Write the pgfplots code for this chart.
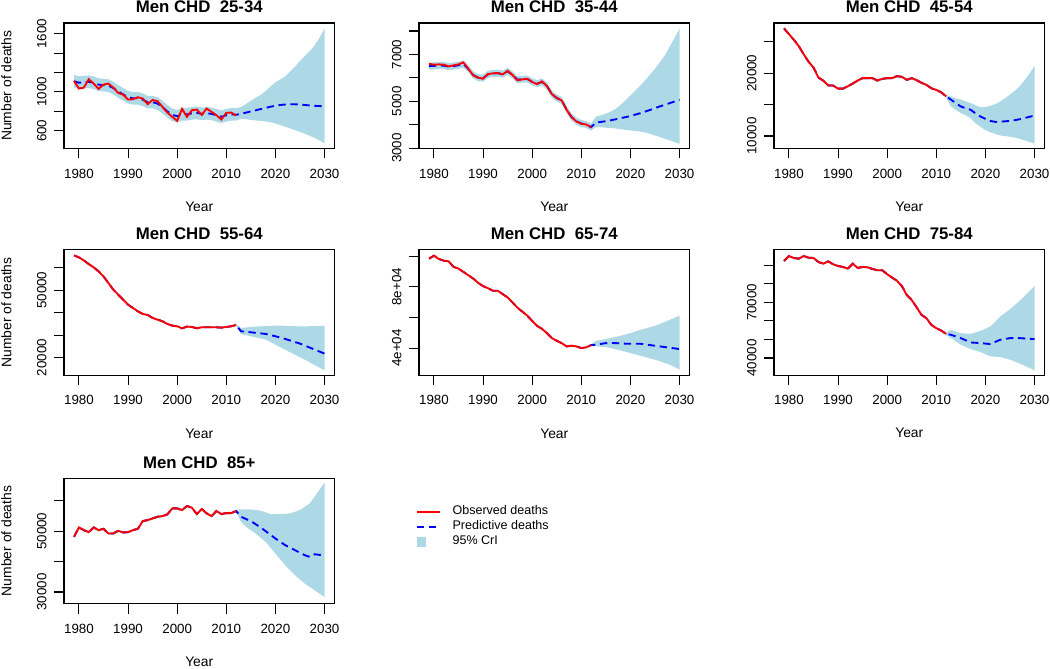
\documentclass[border=0pt]{standalone}
\usepackage{fontspec}
\setmainfont{Liberation Sans}
\usepackage{pgfplots}
\pgfplotsset{compat=1.18}
\usepackage{pgfplotstable}
\usepgfplotslibrary{fillbetween}
\definecolor{bandblue}{HTML}{ADD8E6}
\definecolor{rred}{HTML}{FF0000}
\definecolor{rblue}{HTML}{0000FF}

% ---------- 25-34 ----------
\pgfplotstableread{
year obs
1979 1114
1980 1035
1981 1045
1982 1131
1983 1086
1984 1031
1985 1076
1986 1086
1987 1045
1988 990
1989 973
1990 922
1991 925
1992 946
1993 932
1994 874
1995 918
1996 905
1997 847
1998 788
1999 744
2000 703
2001 826
2002 744
2003 812
2004 819
2005 764
2006 829
2007 795
2008 761
2009 716
2010 785
2011 788
2012 758
}\obsA
\pgfplotstableread{
year fit lo hi
1979 1110 1045 1175
1980 1095 1030 1160
1981 1100 1035 1165
1982 1105 1040 1170
1983 1095 1030 1160
1984 1075 1010 1140
1985 1070 1005 1135
1986 1065 1000 1130
1987 1040 975 1105
1988 1005 940 1070
1989 975 910 1040
1990 945 880 1010
1991 935 870 1000
1992 935 870 1000
1993 920 855 985
1994 895 830 960
1995 895 830 960
1996 880 815 945
1997 845 780 910
1998 800 735 865
1999 765 700 830
2000 750 685 815
2001 770 705 835
2002 770 705 835
2003 780 715 845
2004 785 720 850
2005 775 710 840
2006 780 715 845
2007 775 710 840
2008 760 695 825
2009 745 680 810
2010 760 695 825
2011 770 705 835
2012 765 705 835
2013 775 725 845
2014 787 720 875
2015 800 712 910
2016 812 707 940
2017 824 703 970
2018 836 697 1010
2019 848 688 1055
2020 858 675 1100
2021 866 660 1130
2022 871 642 1160
2023 874 625 1210
2024 873 607 1260
2025 870 590 1320
2026 866 570 1370
2027 861 548 1420
2028 857 528 1480
2029 855 500 1560
2030 853 470 1650
}\predA

% ---------- 35-44 ----------
\pgfplotstableread{
year obs
1979 6604
1980 6561
1981 6575
1982 6561
1983 6490
1984 6533
1985 6575
1986 6661
1987 6390
1988 6105
1989 6006
1990 5963
1991 6162
1992 6191
1993 6205
1994 6148
1995 6305
1996 6120
1997 5892
1998 5934
1999 5963
2000 5821
2001 5735
2002 5849
2003 5650
2004 5308
2005 5137
2006 5037
2007 4638
2008 4325
2009 4140
2010 4040
2011 4011
2012 3883
}\obsB
\pgfplotstableread{
year fit lo hi
1979 6500 6350 6650
1980 6510 6360 6660
1981 6530 6380 6680
1982 6520 6370 6670
1983 6480 6330 6630
1984 6500 6350 6650
1985 6540 6390 6690
1986 6590 6440 6740
1987 6380 6230 6530
1988 6120 5970 6270
1989 6010 5860 6160
1990 5990 5840 6140
1991 6150 6000 6300
1992 6190 6040 6340
1993 6200 6050 6350
1994 6160 6010 6310
1995 6280 6130 6430
1996 6130 5980 6280
1997 5920 5770 6070
1998 5950 5800 6100
1999 5950 5800 6100
2000 5830 5680 5980
2001 5750 5600 5900
2002 5830 5680 5980
2003 5650 5500 5800
2004 5310 5160 5460
2005 5140 4990 5290
2006 5040 4890 5190
2007 4650 4500 4800
2008 4330 4180 4480
2009 4150 4000 4300
2010 4050 3900 4200
2011 4010 3860 4160
2012 3900 3750 4050
2013 4090 3900 4350
2014 4120 3890 4400
2015 4150 3870 4470
2016 4190 3860 4560
2017 4230 3840 4680
2018 4280 3810 4850
2019 4320 3780 5040
2020 4370 3755 5250
2021 4430 3730 5460
2022 4490 3710 5670
2023 4560 3670 5890
2024 4630 3610 6140
2025 4710 3540 6390
2026 4780 3470 6670
2027 4850 3400 6960
2028 4920 3330 7330
2029 4990 3260 7710
2030 5066 3185 8100
}\predB

% ---------- 45-54 ----------
\pgfplotstableread{
year obs
1979 27110
1980 26200
1981 25300
1982 24300
1983 23000
1984 21800
1985 20900
1986 19300
1987 18800
1988 18050
1989 18020
1990 17540
1991 17540
1992 17910
1993 18350
1994 18820
1995 19200
1996 19200
1997 19200
1998 18820
1999 19090
2000 19200
2001 19200
2002 19520
2003 19410
2004 18930
2005 19200
2006 18880
2007 18450
2008 18130
2009 17590
2010 17330
2011 16950
2012 16310
}\obsC
\pgfplotstableread{
year fit lo hi
1979 27110 26910 27310
1980 26200 26000 26400
1981 25300 25100 25500
1982 24300 24100 24500
1983 23000 22800 23200
1984 21800 21600 22000
1985 20900 20700 21100
1986 19300 19100 19500
1987 18800 18600 19000
1988 18050 17850 18250
1989 18020 17820 18220
1990 17540 17340 17740
1991 17540 17340 17740
1992 17910 17710 18110
1993 18350 18150 18550
1994 18820 18620 19020
1995 19200 19000 19400
1996 19200 19000 19400
1997 19200 19000 19400
1998 18820 18620 19020
1999 19090 18890 19290
2000 19200 19000 19400
2001 19200 19000 19400
2002 19520 19320 19720
2003 19410 19210 19610
2004 18930 18730 19130
2005 19200 19000 19400
2006 18880 18680 19080
2007 18450 18250 18650
2008 18130 17930 18330
2009 17590 17390 17790
2010 17330 17130 17530
2011 16950 16750 17150
2012 16310 16110 16510
2013 15775 14700 16300
2014 15200 14150 15950
2015 14700 13640 15780
2016 14400 13300 15500
2017 14170 12850 15240
2018 13600 12030 14900
2019 13100 11450 14600
2020 12730 10960 14600
2021 12400 10600 14800
2022 12250 10320 15080
2023 12280 10100 15500
2024 12340 9980 16000
2025 12400 9890 16580
2026 12530 9750 17200
2027 12670 9550 17910
2028 12870 9300 18900
2029 13060 9050 19950
2030 13262 8820 21120
}\predC

% ---------- 55-64 ----------
\pgfplotstableread{
year obs
1979 65481
1980 64593
1981 63259
1982 61630
1983 60148
1984 58370
1985 56148
1986 53185
1987 50222
1988 48000
1989 45778
1990 43556
1991 42074
1992 40593
1993 39407
1994 38963
1995 37630
1996 36889
1997 36148
1998 34963
1999 34222
2000 33926
2001 33037
2002 33778
2003 33630
2004 33037
2005 33481
2006 33481
2007 33481
2008 33481
2009 33333
2010 33630
2011 33926
2012 34518
}\obsD
\pgfplotstableread{
year fit lo hi
1979 65481 65081 65881
1980 64593 64193 64993
1981 63259 62859 63659
1982 61630 61230 62030
1983 60148 59748 60548
1984 58370 57970 58770
1985 56148 55748 56548
1986 53185 52785 53585
1987 50222 49822 50622
1988 48000 47600 48400
1989 45778 45378 46178
1990 43556 43156 43956
1991 42074 41674 42474
1992 40593 40193 40993
1993 39407 39007 39807
1994 38963 38563 39363
1995 37630 37230 38030
1996 36889 36489 37289
1997 36148 35748 36548
1998 34963 34563 35363
1999 34222 33822 34622
2000 33926 33526 34326
2001 33037 32637 33437
2002 33778 33378 34178
2003 33630 33230 34030
2004 33037 32637 33437
2005 33481 33081 33881
2006 33481 33081 33881
2007 33481 33081 33881
2008 33481 33081 33881
2009 33333 32933 33733
2010 33630 33230 34030
2011 33926 33526 34326
2012 34518 34118 34918
2013 31700 30500 33200
2014 31500 30000 33400
2015 31260 29480 33630
2016 31000 29000 33800
2017 30770 28500 33900
2018 30520 28000 34000
2019 30000 26900 34100
2020 29480 25780 34200
2021 28900 24600 34200
2022 28300 23500 34100
2023 27600 22370 34000
2024 26900 21300 33950
2025 26220 20200 33930
2026 25300 19100 33900
2027 24450 17900 33950
2028 23560 16600 34000
2029 22650 15500 34100
2030 21780 14370 34220
}\predD

% ---------- 65-74 ----------
\pgfplotstableread{
year obs
1979 98277
1980 100219
1981 98061
1982 96982
1983 96551
1984 92882
1985 91802
1986 89643
1987 87486
1988 85327
1989 82521
1990 80363
1991 79068
1992 77341
1993 77341
1994 75183
1995 73024
1996 69786
1997 66333
1998 63742
1999 61152
2000 57699
2001 54461
2002 52519
2003 49713
2004 46475
2005 44749
2006 43238
2007 41079
2008 41511
2009 41079
2010 40000
2011 40432
2012 41943
}\obsE
\pgfplotstableread{
year fit lo hi
1979 98277 97777 98777
1980 100219 99719 100719
1981 98061 97561 98561
1982 96982 96482 97482
1983 96551 96051 97051
1984 92882 92382 93382
1985 91802 91302 92302
1986 89643 89143 90143
1987 87486 86986 87986
1988 85327 84827 85827
1989 82521 82021 83021
1990 80363 79863 80863
1991 79068 78568 79568
1992 77341 76841 77841
1993 77341 76841 77841
1994 75183 74683 75683
1995 73024 72524 73524
1996 69786 69286 70286
1997 66333 65833 66833
1998 63742 63242 64242
1999 61152 60652 61652
2000 57699 57199 58199
2001 54461 53961 54961
2002 52519 52019 53019
2003 49713 49213 50213
2004 46475 45975 46975
2005 44749 44249 45249
2006 43238 42738 43738
2007 41079 40579 41579
2008 41511 41011 42011
2009 41079 40579 41579
2010 40000 39500 40500
2011 40432 39932 40932
2012 41943 41443 42443
2013 42160 41080 44750
2014 42700 40860 45300
2015 43240 40650 45830
2016 43300 40000 46550
2017 43240 39200 47270
2018 43000 38490 47990
2019 42850 37600 48850
2020 42800 36760 49710
2021 42800 35900 50800
2022 42800 35040 51870
2023 42400 34180 52730
2024 41950 33300 53600
2025 41510 32450 54460
2026 41100 31370 55750
2027 40650 30290 57050
2028 40220 29210 58350
2029 39800 27600 59750
2030 39350 25970 61150
}\predE

% ---------- 75-84 ----------
\pgfplotstableread{
year obs
1979 92321
1980 95000
1981 93929
1982 93571
1983 95000
1984 94107
1985 93929
1986 91786
1987 90893
1988 92143
1989 90536
1990 89643
1991 89107
1992 88214
1993 90893
1994 88571
1995 89107
1996 88929
1997 88036
1998 87321
1999 87321
2000 85179
2001 83393
2002 81607
2003 78750
2004 73929
2005 71250
2006 67321
2007 63214
2008 61429
2009 57857
2010 56071
2011 54821
2012 53036
}\obsF
\pgfplotstableread{
year fit lo hi
1979 92321 91721 92921
1980 95000 94400 95600
1981 93929 93329 94529
1982 93571 92971 94171
1983 95000 94400 95600
1984 94107 93507 94707
1985 93929 93329 94529
1986 91786 91186 92386
1987 90893 90293 91493
1988 92143 91543 92743
1989 90536 89936 91136
1990 89643 89043 90243
1991 89107 88507 89707
1992 88214 87614 88814
1993 90893 90293 91493
1994 88571 87971 89171
1995 89107 88507 89707
1996 88929 88329 89529
1997 88036 87436 88636
1998 87321 86721 87921
1999 87321 86721 87921
2000 85179 84579 85779
2001 83393 82793 83993
2002 81607 81007 82207
2003 78750 78150 79350
2004 73929 73329 74529
2005 71250 70650 71850
2006 67321 66721 67921
2007 63214 62614 63814
2008 61429 60829 62029
2009 57857 57257 58457
2010 56071 55471 56671
2011 54821 54221 55421
2012 53036 52436 53636
2013 52500 50710 55180
2014 51600 48900 54300
2015 50710 47140 53390
2016 49550 45980 53200
2017 48390 44820 53040
2018 48200 44000 53800
2019 48040 43210 54640
2020 47770 42050 55800
2021 47500 40890 56960
2022 48660 40700 59640
2023 49820 40540 62320
2024 50270 39800 64290
2025 50710 39110 66250
2026 50710 38000 68570
2027 50710 36960 70890
2028 50530 35800 73500
2029 50350 34600 76100
2030 50180 33390 78750
}\predF

% ---------- 85+ ----------
\pgfplotstableread{
year obs
1979 48132
1980 51209
1981 50330
1982 49670
1983 51209
1984 50330
1985 50769
1986 49231
1987 49231
1988 50110
1989 49560
1990 49670
1991 50330
1992 50769
1993 53297
1994 53626
1995 54176
1996 54725
1997 54945
1998 55495
1999 57473
2000 57473
2001 56923
2002 58242
2003 57692
2004 55604
2005 57253
2006 55824
2007 54945
2008 56593
2009 55604
2010 55934
2011 55934
2012 56593
}\obsG
\pgfplotstableread{
year fit lo hi
1979 48132 47732 48532
1980 51209 50809 51609
1981 50330 49930 50730
1982 49670 49270 50070
1983 51209 50809 51609
1984 50330 49930 50730
1985 50769 50369 51169
1986 49231 48831 49631
1987 49231 48831 49631
1988 50110 49710 50510
1989 49560 49160 49960
1990 49670 49270 50070
1991 50330 49930 50730
1992 50769 50369 51169
1993 53297 52897 53697
1994 53626 53226 54026
1995 54176 53776 54576
1996 54725 54325 55125
1997 54945 54545 55345
1998 55495 55095 55895
1999 57473 57073 57873
2000 57473 57073 57873
2001 56923 56523 57323
2002 58242 57842 58642
2003 57692 57292 58092
2004 55604 55204 56004
2005 57253 56853 57653
2006 55824 55424 56224
2007 54945 54545 55345
2008 56593 56193 56993
2009 55604 55204 56004
2010 55934 55534 56334
2011 55934 55534 56334
2012 56593 56193 56993
2013 54725 53080 57140
2014 54000 51430 57140
2015 53300 50330 57140
2016 52250 49230 56950
2017 51210 47860 56700
2018 50000 46480 56150
2019 48800 44560 55600
2020 47580 42640 55600
2021 46480 40710 55600
2022 45390 38790 55700
2023 44560 37140 55820
2024 43740 35500 56370
2025 42910 34120 56920
2026 42090 32750 58020
2027 41540 31650 59120
2028 42420 30550 61320
2029 42200 29450 63630
2030 41980 28350 65930
}\predG

\pgfplotsset{
  rpanel/.style={
    scale only axis, width=202.9pt, height=94.1pt, anchor=north west,
    xmin=1976.96, xmax=2032.04,
    xtick={1980,1990,2000,2010,2020,2030},
    xticklabels={1980,1990,2000,2010,2020,2030},
    scaled x ticks=false, scaled y ticks=false,
    tick pos=left, tick align=outside, major tick length=7.5pt,
    every tick/.style={black, line width=0.8pt},
    axis line style={black, line width=0.8pt},
    ticklabel style={font=\fontsize{10}{12}\selectfont},
    xticklabel style={anchor=north, inner sep=0pt},
    yticklabel style={rotate=90, anchor=south, inner sep=0pt},
    xticklabel shift=7.5pt,
    yticklabel shift=5.5pt,
    /pgf/number format/assume math mode=true,
    xlabel={Year},
    xlabel style={at={(axis description cs:0.5,-0.463)}, anchor=center, inner sep=0pt, font=\fontsize{10.4}{12}\selectfont},
    title style={at={(axis description cs:0.5,1)}, anchor=center, inner sep=0pt, yshift=5.9pt, font=\bfseries\fontsize{12.6}{15}\selectfont},
  },
  ylab/.style={ylabel={Number of deaths},
    ylabel style={at={(axis description cs:-0.2124,0.5)}, anchor=center, inner sep=0pt, font=\fontsize{10.4}{12}\selectfont}},
  obsline/.style={rred, line width=1.4pt},
  predline/.style={rblue, line width=1.4pt, dash pattern=on 5.5pt off 3.5pt},
}

\begin{document}
\begin{tikzpicture}

% Panel 1
\begin{axis}[rpanel, ylab, at={(48pt,-17.25pt)}, title={Men CHD\ \ 25-34},
  ymin=418.5, ymax=1709.6, ytick={600,800,1000,1200,1400,1600}, yticklabels={600,,1000,,,1600}]
\addplot[name path=uA, draw=none, forget plot] table[x=year,y=hi]{\predA};
\addplot[name path=lA, draw=none, forget plot] table[x=year,y=lo]{\predA};
\addplot[fill=bandblue, draw=none, forget plot] fill between[of=uA and lA];
\addplot[predline, forget plot] table[x=year,y=fit]{\predA};
\addplot[obsline, forget plot] table[x=year,y=obs]{\obsA};
\end{axis}

% Panel 2
\begin{axis}[rpanel, at={(314.25pt,-17.25pt)}, title={Men CHD\ \ 35-44},
  ymin=2985, ymax=8342, ytick={3000,4000,5000,6000,7000,8000}, yticklabels={3000,,5000,,7000,}]
\addplot[name path=uB, draw=none, forget plot] table[x=year,y=hi]{\predB};
\addplot[name path=lB, draw=none, forget plot] table[x=year,y=lo]{\predB};
\addplot[fill=bandblue, draw=none, forget plot] fill between[of=uB and lB];
\addplot[predline, forget plot] table[x=year,y=fit]{\predB};
\addplot[obsline, forget plot] table[x=year,y=obs]{\obsB};
\end{axis}

% Panel 3
\begin{axis}[rpanel, at={(580.5pt,-17.25pt)}, title={Men CHD\ \ 45-54},
  ymin=8021, ymax=27968, ytick={10000,15000,20000,25000}, yticklabels={10000,,20000,}]
\addplot[name path=uC, draw=none, forget plot] table[x=year,y=hi]{\predC};
\addplot[name path=lC, draw=none, forget plot] table[x=year,y=lo]{\predC};
\addplot[fill=bandblue, draw=none, forget plot] fill between[of=uC and lC];
\addplot[predline, forget plot] table[x=year,y=fit]{\predC};
\addplot[obsline, forget plot] table[x=year,y=obs]{\obsC};
\end{axis}

% Panel 4
\begin{axis}[rpanel, ylab, at={(48pt,-187.3pt)}, title={Men CHD\ \ 55-64},
  ymin=12148, ymax=68000, ytick={20000,30000,40000,50000,60000}, yticklabels={20000,,,50000,}]
\addplot[name path=uD, draw=none, forget plot] table[x=year,y=hi]{\predD};
\addplot[name path=lD, draw=none, forget plot] table[x=year,y=lo]{\predD};
\addplot[fill=bandblue, draw=none, forget plot] fill between[of=uD and lD];
\addplot[predline, forget plot] table[x=year,y=fit]{\predD};
\addplot[obsline, forget plot] table[x=year,y=obs]{\obsD};
\end{axis}

% Panel 5
\begin{axis}[rpanel, at={(314.25pt,-187.3pt)}, title={Men CHD\ \ 65-74},
  ymin=22301, ymax=104106, ytick={40000,60000,80000,100000}, yticklabels={4e+04,,8e+04,}]
\addplot[name path=uE, draw=none, forget plot] table[x=year,y=hi]{\predE};
\addplot[name path=lE, draw=none, forget plot] table[x=year,y=lo]{\predE};
\addplot[fill=bandblue, draw=none, forget plot] fill between[of=uE and lE];
\addplot[predline, forget plot] table[x=year,y=fit]{\predE};
\addplot[obsline, forget plot] table[x=year,y=obs]{\obsE};
\end{axis}

% Panel 6
\begin{axis}[rpanel, at={(580.5pt,-187.3pt)}, title={Men CHD\ \ 75-84},
  ymin=30714, ymax=98393, ytick={40000,50000,60000,70000,80000,90000}, yticklabels={40000,,,70000,,}]
\addplot[name path=uF, draw=none, forget plot] table[x=year,y=hi]{\predF};
\addplot[name path=lF, draw=none, forget plot] table[x=year,y=lo]{\predF};
\addplot[fill=bandblue, draw=none, forget plot] fill between[of=uF and lF];
\addplot[predline, forget plot] table[x=year,y=fit]{\predF};
\addplot[obsline, forget plot] table[x=year,y=obs]{\obsF};
\end{axis}

% Panel 7
\begin{axis}[rpanel, ylab, at={(48pt,-358.7pt)}, title={Men CHD\ \ 85+},
  ymin=26154, ymax=67363, ytick={30000,40000,50000,60000}, yticklabels={30000,,50000,},
  legend cell align=left,
  legend style={at={(axis description cs:1.301,0.791)}, anchor=north west, draw=none, fill=none,
    inner sep=0pt, outer sep=0pt, row sep=0pt, font=\fontsize{9.4}{11}\selectfont,
    nodes={inner sep=0pt, text height=7.5pt, text depth=3.75pt},
    /tikz/every odd column/.append style={column sep=9pt}}]
\addplot[name path=uG, draw=none, forget plot] table[x=year,y=hi]{\predG};
\addplot[name path=lG, draw=none, forget plot] table[x=year,y=lo]{\predG};
\addplot[fill=bandblue, draw=none, forget plot] fill between[of=uG and lG];
\addplot[predline, forget plot] table[x=year,y=fit]{\predG};
\addplot[obsline, forget plot] table[x=year,y=obs]{\obsG};
\addlegendimage{obsline}
\addlegendentry{Observed deaths}
\addlegendimage{predline}
\addlegendentry{Predictive deaths}
\addlegendimage{legend image code/.code={\fill[bandblue] (0pt,-3pt) rectangle (6.5pt,3.5pt);}}
\addlegendentry{95\% CrI}
\end{axis}

\pgfresetboundingbox
\useasboundingbox (0,0) rectangle (787.5pt,-501pt);
\end{tikzpicture}
\end{document}
